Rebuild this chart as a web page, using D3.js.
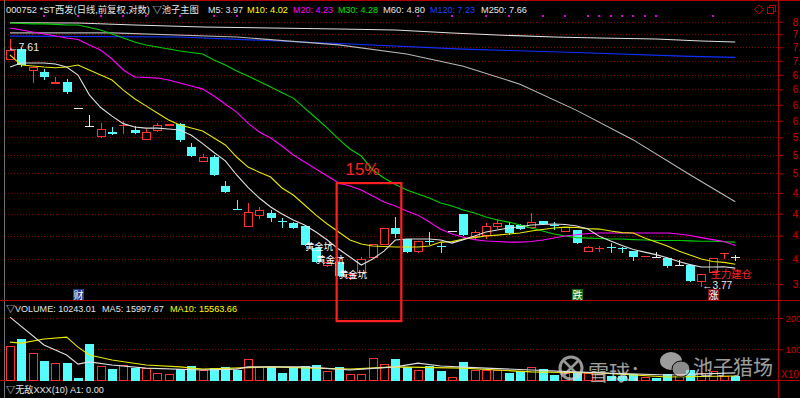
<!DOCTYPE html>
<html><head><meta charset="utf-8">
<script src="https://cdn.jsdelivr.net/npm/d3@7"></script>
<style>
body{margin:0;background:#000;}
svg{display:block;}
text{font-family:"Liberation Sans","Noto Sans CJK SC",sans-serif;}
</style></head>
<body><svg id="c" width="800" height="398"></svg>
<script>
// ---------- DATA ----------
const open  = [7.175,7.403,6.955,6.935,6.703,6.741,6.26,5.949,5.767,5.849,5.960,5.882,5.718,5.865,5.949,5.983,5.606,5.372,5.449,5.018,4.705,4.466,4.608,4.648,4.548,4.517,4.479,4.208,3.999,4.044,3.870,3.920,4.090,4.244,4.454,4.317,4.160,4.298,4.235,4.416,4.636,4.341,4.354,4.466,4.492,4.492,4.454,4.543,4.495,4.404,4.429,4.160,4.205,4.222,4.212,4.172,4.108,4.102,4.090,4.010,4.010,3.822,3.920,4.140,4.102];
const high  = [7.61,7.43,7.034,6.994,6.837,6.798,6.26,6.137,6.000,5.932,6.034,5.949,5.899,6.000,5.983,6.000,5.670,5.495,5.480,5.090,4.823,4.782,4.728,4.688,4.582,4.530,4.479,4.208,4.06,4.044,3.930,4.102,4.256,4.454,4.595,4.317,4.293,4.404,4.280,4.416,4.636,4.429,4.517,4.569,4.530,4.50,4.648,4.55,4.530,4.47,4.429,4.232,4.232,4.268,4.22,4.172,4.12,4.16,4.09,4.067,4.02,3.909,4.090,4.149,4.125];
const low   = [7.175,7.054,6.722,6.798,6.703,6.534,6.26,5.949,5.751,5.816,5.816,5.832,5.718,5.849,5.949,5.702,5.464,5.372,5.178,4.934,4.700,4.466,4.569,4.543,4.466,4.454,4.244,4.044,3.987,3.887,3.843,3.920,4.090,4.244,4.341,4.160,4.149,4.256,4.160,4.416,4.366,4.305,4.317,4.441,4.379,4.441,4.441,4.505,4.441,4.404,4.268,4.160,4.160,4.160,4.160,4.067,4.10,4.102,3.987,4.010,3.832,3.77,3.92,4.079,4.067];
const close = [7.382,7.074,7.034,6.837,6.741,6.552,6.26,5.949,5.899,5.816,5.970,5.832,5.849,5.966,5.983,5.718,5.464,5.449,5.178,4.934,4.700,4.661,4.688,4.582,4.540,4.454,4.244,4.044,4.040,3.887,3.910,4.079,4.256,4.454,4.379,4.160,4.293,4.288,4.228,4.416,4.366,4.404,4.479,4.517,4.391,4.441,4.530,4.505,4.485,4.466,4.268,4.220,4.212,4.215,4.205,4.102,4.115,4.102,3.999,4.010,3.832,3.909,4.090,4.149,4.102];
const volume = [111,132,89,64,56,56,10,116,47,36,50,42,40,24,21,36,47,34,40,43,34,68,43,43,24,43,47,50,32,43,21,21,73,53,68,43,34,47,32,11,59,34,34,34,26,32,43,36,18,24,28,24,20,15,15,22,12,10,22,18,35,26,30,16,14];

const ma5  = [7.034,7.115,7.115,7.115,7.095,7.034,6.876,6.50,6.27,6.12,5.99,5.932,5.915,5.915,5.899,5.882,5.797,5.66,5.52,5.39,5.178,5.00,4.85,4.728,4.636,4.556,4.492,4.404,4.305,4.196,4.102,4.010,4.079,4.172,4.305,4.317,4.317,4.317,4.305,4.268,4.31,4.354,4.404,4.429,4.454,4.47,4.492,4.50,4.505,4.50,4.479,4.441,4.35,4.293,4.24,4.19,4.160,4.13,4.095,4.05,4.015,3.987,3.987,3.99,3.975];
const ma10 = [7.278,7.074,7.054,7.034,7.02,7.034,7.074,6.975,6.876,6.779,6.589,6.43,6.30,6.173,6.052,5.966,5.915,5.865,5.751,5.638,5.449,5.296,5.22,5.148,4.990,4.892,4.755,4.621,4.505,4.404,4.305,4.256,4.232,4.226,4.220,4.220,4.220,4.232,4.280,4.286,4.317,4.335,4.354,4.366,4.379,4.391,4.416,4.435,4.454,4.466,4.46,4.447,4.441,4.416,4.397,4.391,4.329,4.280,4.232,4.172,4.125,4.079,4.05,4.04,4.02];
const ma20 = [7.858,7.813,7.77,7.725,7.68,7.638,7.606,7.488,7.382,7.196,6.975,6.837,6.827,6.817,6.779,6.722,6.664,6.607,6.48,6.33,6.19,6.000,5.849,5.751,5.622,5.480,5.372,5.266,5.163,5.062,5.018,4.962,4.879,4.796,4.741,4.675,4.62,4.53,4.44,4.38,4.34,4.31,4.293,4.287,4.280,4.280,4.287,4.305,4.329,4.354,4.37,4.385,4.391,4.391,4.391,4.391,4.391,4.391,4.391,4.379,4.36,4.335,4.31,4.287,4.24];
const ma30 = [7.97,7.96,7.95,7.95,7.94,7.925,7.925,7.87,7.813,7.725,7.638,7.552,7.488,7.445,7.403,7.36,7.33,7.298,7.175,7.074,6.955,6.856,6.75,6.645,6.54,6.44,6.261,6.087,5.915,5.734,5.575,5.464,5.251,5.134,5.04,4.962,4.906,4.851,4.782,4.741,4.688,4.648,4.595,4.556,4.530,4.492,4.454,4.416,4.379,4.354,4.335,4.329,4.323,4.317,4.317,4.31,4.305,4.30,4.30,4.30,4.295,4.29,4.29,4.285,4.28];
const ma60  = [[0,7.75],[9,7.75],[20,7.66],[29,7.49],[35,7.30],[40,7.05],[45,6.70],[50,6.22],[55,5.72],[60,5.18],[64,4.80]];
const ma120 = [[0,7.68],[15,7.66],[30,7.51],[40,7.40],[50,7.33],[60,7.25],[64,7.23]];
const ma250 = [[0,7.977],[6,7.97],[11,7.925],[17,7.88],[23,7.858],[29,7.836],[34,7.813],[39,7.747],[43,7.703],[48,7.66],[52,7.638],[57,7.617],[61,7.573],[64,7.552]];
const volMa5  = [[0,203],[3,114],[5,82],[6,53],[7,60],[9,50],[12,40],[17,34],[20,37],[21,44],[26,44],[30,34],[34,44],[36,56],[38,47],[42,40],[46,34],[52,25],[58,18],[64,25]];
const volMa10 = [[0,123],[1,120],[3,133],[5,139],[6,107],[7,82],[9,66],[12,50],[15,44],[17,37],[23,44],[30,37],[34,44],[40,40],[46,28],[52,25],[58,12],[64,15]];

const priceTicks = [8.00,7.72,7.44,7.16,6.88,6.60,6.32,6.04,5.76,5.48,5.20,4.92,4.64,4.36,4.08,3.80];
const volTicks = [100,200];
const signalDots = [3,6,8,10,12,15,18,20,36,39,42,44,47,49,51,52,53,54,55,56,57,62];

const headerItems = [
  {t:"000752 *ST西发(日线,前复权,对数) ▽池子主图", x:6, w:193, c:"#e6e6e6"},
  {t:"M5: 3.97", x:208, w:35, c:"#e6e6e6"},
  {t:"M10: 4.02", x:247, w:41, c:"#ffff00"},
  {t:"M20: 4.23", x:293, w:40, c:"#ff00ff"},
  {t:"M30: 4.28", x:338, w:40, c:"#00e000"},
  {t:"M60: 4.80", x:383, w:42, c:"#e6e6e6"},
  {t:"M120: 7.23", x:430, w:45, c:"#2040ff"},
  {t:"M250: 7.66", x:481, w:46, c:"#e6e6e6"}
];
const volHeader = [
  {t:"▽VOLUME: 10243.01", x:6, w:90, c:"#e6e6e6"},
  {t:"MA5: 15997.67", x:102, w:62, c:"#e6e6e6"},
  {t:"MA10: 15563.66", x:170, w:67, c:"#ffff00"}
];
const goldPit = [[27,4.19],[28,4.03],[30,3.86]];

// ---------- SCALES ----------
const svg = d3.select("#c");
const x = d3.scaleLinear().domain([0,64]).range([10,735.3]);
const yP = d3.scaleLog().domain([3.8,8]).range([284,21.7]);
const yV = d3.scaleLinear().domain([0,200]).range([380.7,318]);
const RED="#ff3232", CYAN="#54fcfc", WHITE="#e8e8e8", GRID="#8a0000", AX="#b00000";

svg.append("rect").attr("width",800).attr("height",398).attr("fill","#000");

// helper: text fitted to a width by font size
function fitText(sel, t, xx, yy, w, col, base){
  const el = sel.append("text").attr("x",xx).attr("y",yy).attr("fill",col).attr("font-size",base+"px").text(t);
  const len = el.node().getComputedTextLength();
  if (len>0) el.attr("font-size",(base*w/len).toFixed(2)+"px");
  return el;
}

// frame lines
svg.append("line").attr("x1",0).attr("x2",800).attr("y1",0.5).attr("y2",0.5).attr("stroke",AX);
svg.append("line").attr("x1",4.5).attr("x2",4.5).attr("y1",0).attr("y2",398).attr("stroke","#707070");
svg.append("line").attr("x1",0).attr("x2",800).attr("y1",300.5).attr("y2",300.5).attr("stroke",AX);
svg.append("line").attr("x1",0).attr("x2",800).attr("y1",380.5).attr("y2",380.5).attr("stroke",AX);

// grid
svg.append("g").selectAll("line").data(priceTicks).join("line")
  .attr("x1",5).attr("x2",777).attr("y1",d=>Math.round(yP(d))+0.5).attr("y2",d=>Math.round(yP(d))+0.5)
  .attr("stroke",GRID).attr("stroke-dasharray","1,2");
svg.append("g").selectAll("line").data(volTicks).join("line")
  .attr("x1",5).attr("x2",777).attr("y1",d=>Math.round(yV(d))+0.5).attr("y2",d=>Math.round(yV(d))+0.5)
  .attr("stroke",GRID).attr("stroke-dasharray","1,2");

// axes
const ga = svg.append("g").attr("transform","translate(778.5,0)")
  .call(d3.axisRight(yP).tickValues(priceTicks).tickSize(5).tickPadding(9).tickFormat(d3.format(".2f")));
const gv = svg.append("g").attr("transform","translate(778.5,0)")
  .call(d3.axisRight(yV).tickValues(volTicks).tickSize(5).tickPadding(2).tickFormat(d3.format("d")));
[ga,gv].forEach(g=>{
  g.select(".domain").remove();
  g.selectAll("line").attr("stroke",AX);
  g.selectAll("text").attr("fill","#d00000").attr("font-size","10.5px");
});
gv.selectAll("text").attr("font-size","9.5px");
svg.append("line").attr("x1",778.5).attr("x2",778.5).attr("y1",0).attr("y2",398).attr("stroke",AX);
svg.append("text").attr("x",781).attr("y",378).attr("fill","#d00000").attr("font-size","10px").text("X10");

// signal dots
svg.append("g").selectAll("rect").data(signalDots).join("rect")
  .attr("x",d=>Math.round(x(d))-1).attr("y",15).attr("width",2).attr("height",2).attr("fill","#e000e0");

// candles
const idx = d3.range(open.length);
const cg = svg.append("g");
idx.forEach(i=>{
  const cx = Math.round(x(i));
  const o=open[i], c=close[i];
  const yo=Math.round(yP(o)), yc=Math.round(yP(c)), yh=Math.round(yP(high[i])), yl=Math.round(yP(low[i]));
  const top=Math.min(yo,yc), bot=Math.max(yo,yc);
  if (c>o) {
    cg.append("line").attr("x1",cx+0.5).attr("x2",cx+0.5).attr("y1",yh).attr("y2",top).attr("stroke",RED);
    cg.append("line").attr("x1",cx+0.5).attr("x2",cx+0.5).attr("y1",bot).attr("y2",yl).attr("stroke",RED);
    if (bot-top<2) {
      cg.append("rect").attr("x",cx-4).attr("y",top).attr("width",9).attr("height",Math.max(1,bot-top)).attr("fill",RED);
    } else {
      cg.append("rect").attr("x",cx-3.5).attr("y",top+0.5).attr("width",8).attr("height",bot-top-1).attr("fill","#000").attr("stroke",RED);
    }
  } else {
    const col = c<o ? CYAN : WHITE;
    cg.append("line").attr("x1",cx+0.5).attr("x2",cx+0.5).attr("y1",yh).attr("y2",yl+(yh===yl?0:1)).attr("stroke",col);
    cg.append("rect").attr("x",cx-4).attr("y",top).attr("width",9).attr("height",Math.max(1,bot-top)).attr("fill",col);
  }
});

// volume bars
const vg = svg.append("g");
idx.forEach(i=>{
  const cx = Math.round(x(i));
  const up = close[i]>open[i] || (close[i]===open[i] && i>0 && close[i]>=close[i-1]);
  const yt = Math.round(yV(volume[i])), y0 = Math.round(yV(0));
  if (up) vg.append("rect").attr("x",cx-3.5).attr("y",yt+0.5).attr("width",8).attr("height",Math.max(1,y0-yt-1)).attr("fill","#000").attr("stroke",RED);
  else vg.append("rect").attr("x",cx-4).attr("y",yt).attr("width",9).attr("height",y0-yt).attr("fill",CYAN);
});

// moving average lines
const lineP = d3.line().x(d=>x(d[0])).y(d=>yP(d[1]));
const lineV = d3.line().x(d=>x(d[0])).y(d=>yV(d[1]));
const pairs = a=>a.map((v,i)=>[i,v]);
[[ma250,"#e0e0e0"],[ma120,"#1030ff"],[ma60,"#b8b8b8"],[pairs(ma30),"#00d000"],[pairs(ma20),"#ff00ff"],[pairs(ma10),"#e8e800"],[pairs(ma5),"#e0e0e0"]]
  .forEach(([d,c])=>svg.append("path").attr("d",lineP(d)).attr("fill","none").attr("stroke",c).attr("stroke-width",1.1));
[[volMa10,"#e8e800"],[volMa5,"#e0e0e0"]]
  .forEach(([d,c])=>svg.append("path").attr("d",lineV(d)).attr("fill","none").attr("stroke",c).attr("stroke-width",1.1));

// header texts
headerItems.forEach(h=>fitText(svg,h.t,h.x,13,h.w,h.c,11));
volHeader.forEach(h=>fitText(svg,h.t,h.x,312,h.w,h.c,11));
fitText(svg,"▽无敌XXX(10) A1: 0.00",6,393,98,"#e6e6e6",11);

// top right icons
svg.append("path").attr("d","M759,5 L763.5,9.5 L759,14 L754.5,9.5 Z").attr("fill","none").attr("stroke","#c00000");
svg.append("rect").attr("x",767.5).attr("y",7.5).attr("width",6).attr("height",6).attr("fill","none").attr("stroke","#c00000");
svg.append("path").attr("d","M769.5,7.5 V5.5 H775.5 V11.5 H773.5").attr("fill","none").attr("stroke","#c00000");

// extreme labels
const maxI = d3.maxIndex(high), minI = d3.minIndex(low);
fitText(svg,"←"+high[maxI].toFixed(2),x(maxI)-2,yP(high[maxI])+12,31,WHITE,11);
fitText(svg,"←"+low[minI].toFixed(2),x(minI)+1,yP(low[minI])+2,30,WHITE,11);

// 黄金坑 labels
goldPit.forEach(([i,p])=>fitText(svg,"黄金坑",x(i)-11,yP(p),28,"#ffffff",10));

// 15% box
svg.append("rect").attr("x",x(29)-2).attr("y",yP(5.06)).attr("width",x(34)-x(29)+8).attr("height",yV(190)-yP(5.06))
  .attr("fill","none").attr("stroke","#ff2020").attr("stroke-width",2.2);
svg.append("text").attr("x",x(29.6)).attr("y",yP(5.18)).attr("fill","#ff2020").attr("font-size","17px").text("15%");

// 主力建仓
fitText(svg,"主力建仓",x(62)-2,yP(3.865),41,"#ff2020",10);

// small tag boxes
[[6,"财","#1c3c8c"],[50,"跌","#107010"],[62,"涨","#801010"]].forEach(([i,t,c])=>{
  const cx=Math.round(x(i));
  svg.append("rect").attr("x",cx-5).attr("y",289).attr("width",11).attr("height",11).attr("fill",c);
  svg.append("text").attr("x",cx+0.5).attr("y",298.5).attr("text-anchor","middle").attr("fill","#fff").attr("font-size","10px").text(t);
});

// watermark
const wm = svg.append("g").attr("opacity",0.7);
wm.append("circle").attr("cx",571).attr("cy",368).attr("r",11).attr("fill","none").attr("stroke","#d8d8d8").attr("stroke-width",3);
wm.append("path").attr("d","M564,361 L578,375 M578,361 L564,375").attr("stroke","#d8d8d8").attr("stroke-width",2.5);
wm.append("text").attr("x",588).attr("y",380).attr("fill","#e0e0e0").attr("font-size","21px").text("雪球：");
wm.append("ellipse").attr("cx",671).attr("cy",361).attr("rx",11).attr("ry",9).attr("fill","#e0e0e0");
wm.append("ellipse").attr("cx",681).attr("cy",369).attr("rx",9).attr("ry",8).attr("fill","#c8c8c8").attr("stroke","#000").attr("stroke-width",1);
wm.append("text").attr("x",693).attr("y",375).attr("fill","#e0e0e0").attr("font-size","20px").text("池子猎场");
</script></body></html>
